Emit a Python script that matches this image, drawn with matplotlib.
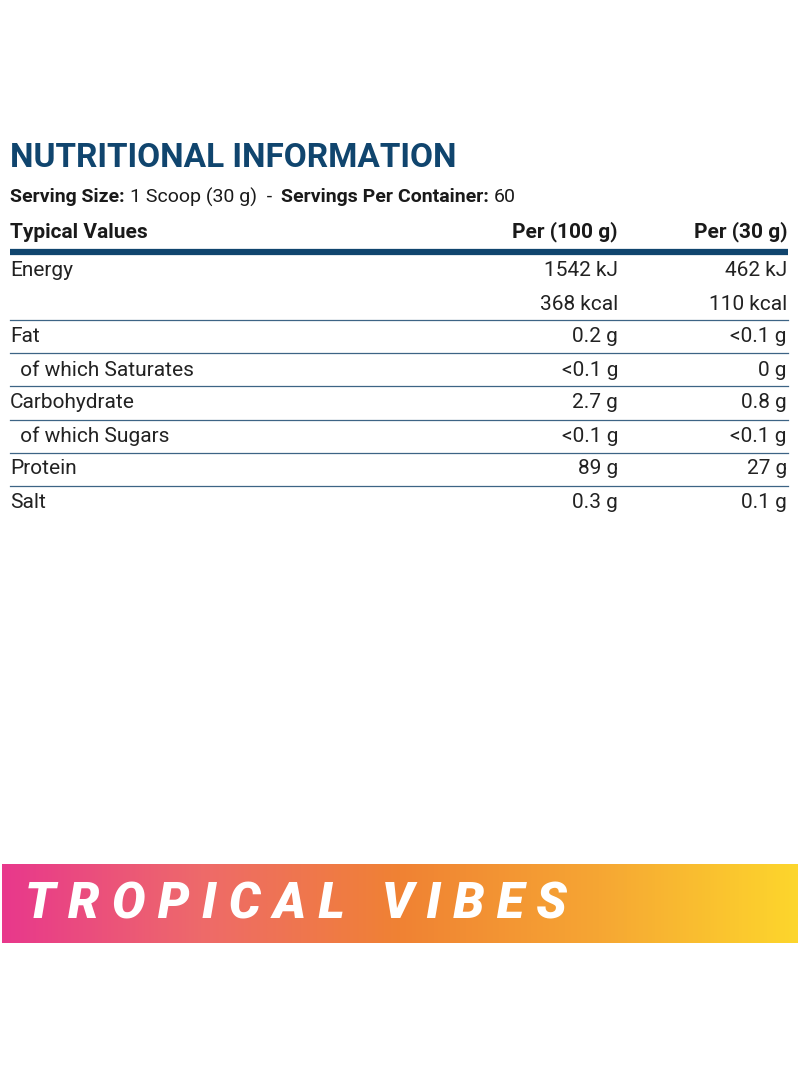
import matplotlib
matplotlib.use("Agg")
import matplotlib.pyplot as plt
import numpy as np
from matplotlib.colors import LinearSegmentedColormap

nutrients = ["Energy", "", "Fat", "  of which Saturates", "Carbohydrate", "  of which Sugars", "Protein", "Salt"]
per100 = ["1542 kJ", "368 kcal", "0.2 g", "<0.1 g", "2.7 g", "<0.1 g", "89 g", "0.3 g"]
per30 = ["462 kJ", "110 kcal", "<0.1 g", "0 g", "0.8 g", "<0.1 g", "27 g", "0.1 g"]
row_y = [271, 304, 337, 370, 403, 436, 469, 502]
sep_y = [320, 353, 386, 420, 453, 486]

navy = "#10456e"
fig = plt.figure(figsize=(8, 10.91), dpi=100)
ax = fig.add_axes([0, 0, 1, 1])
ax.set_xlim(0, 800); ax.set_ylim(1091, 0); ax.axis("off")
F = "Roboto"
txt = "#1a1a1a"

ax.text(10, 158, "NUTRITIONAL INFORMATION", fontsize=24, fontweight="bold", color=navy,
        family=F, va="center")

# serving line, chained pieces
fig.canvas.draw()
r = fig.canvas.get_renderer()
x = 10
parts = [("Serving Size: ", "bold"), ("1 Scoop (30 g)  -  ", "normal"),
         ("Servings Per Container: ", "bold"), ("60", "normal")]
for s, w in parts:
    t = ax.text(x, 197, s, fontsize=14, fontweight=w, color=txt, family=F, va="center")
    bb = t.get_window_extent(r)
    x += bb.width

ax.text(10, 232, "Typical Values", fontsize=15, fontweight="bold", color=txt, family=F, va="center")
ax.text(618, 232, "Per (100 g)", fontsize=15, fontweight="bold", color=txt, family=F, va="center", ha="right")
ax.text(787, 232, "Per (30 g)", fontsize=15, fontweight="bold", color=txt, family=F, va="center", ha="right")
ax.plot([10, 788], [252, 252], color=navy, lw=4.5, solid_capstyle="butt")

for n, a, b, y in zip(nutrients, per100, per30, row_y):
    ax.text(10, y, n, fontsize=15, fontweight="normal", color="#222222", family=F, va="center")
    ax.text(618, y, a, fontsize=15, fontweight="normal", color="#222222", family=F, va="center", ha="right")
    ax.text(787, y, b, fontsize=15, fontweight="normal", color="#222222", family=F, va="center", ha="right")
for y in sep_y:
    ax.plot([10, 788], [y, y], color="#3d6485", lw=0.9)

cmap = LinearSegmentedColormap.from_list("g", ["#e8388c", "#ee6a6a", "#f08233", "#f6a634", "#fdd62c"])
grad = np.linspace(0, 1, 512).reshape(1, -1)
ax.imshow(grad, cmap=cmap, extent=[2, 798, 943, 864], aspect="auto", zorder=1)
ax.set_xlim(0, 800); ax.set_ylim(1091, 0)
ax.text(25, 905, "T R O P I C A L   V I B E S", fontsize=36, fontweight="black", fontstyle="italic",
        color="white", family=F, va="center", zorder=2)

fig.savefig("out.png", dpi=100)
